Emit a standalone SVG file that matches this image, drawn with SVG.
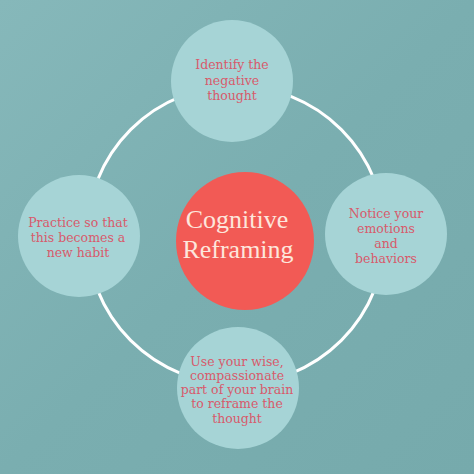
<svg xmlns="http://www.w3.org/2000/svg" width="474" height="474" viewBox="0 0 474 474">
<defs>
<linearGradient id="bg" x1="0" y1="0" x2="1" y2="1">
<stop offset="0" stop-color="#86b8ba"/>
<stop offset="0.5" stop-color="#7aaeb0"/>
<stop offset="1" stop-color="#76aaac"/>
</linearGradient>
<style>
.node{fill:#a6d4d6}
.lbl{font-family:"DejaVu Serif","Liberation Serif",serif;font-size:12.5px;fill:#d85a6b;text-anchor:middle}
.ctr{font-family:"Liberation Serif","DejaVu Serif",serif;font-size:26px;fill:#fde6dc;text-anchor:middle}
</style>
</defs>
<rect width="474" height="474" fill="url(#bg)"/>
<g id="connectors">
<circle cx="236" cy="235" r="149" fill="none" stroke="#ffffff" stroke-width="3"/>
</g>
<g id="center">
<circle cx="245" cy="241" r="69" fill="#f25a55"/>
<text class="ctr" x="237" y="228">Cognitive</text>
<text class="ctr" x="238" y="258">Reframing</text>
</g>
<g id="top">
<circle class="node" cx="232" cy="81" r="61"/>
<text class="lbl" x="232" y="69">Identify the</text>
<text class="lbl" x="232" y="85">negative</text>
<text class="lbl" x="232" y="100">thought</text>
</g>
<g id="right">
<circle class="node" cx="386" cy="234" r="61"/>
<text class="lbl" x="386" y="218">Notice your</text>
<text class="lbl" x="386" y="233">emotions</text>
<text class="lbl" x="386" y="248">and</text>
<text class="lbl" x="386" y="263">behaviors</text>
</g>
<g id="bottom">
<circle class="node" cx="238" cy="388" r="61"/>
<text class="lbl" x="237" y="366">Use your wise,</text>
<text class="lbl" x="237" y="380">compassionate</text>
<text class="lbl" x="237" y="394">part of your brain</text>
<text class="lbl" x="237" y="408">to reframe the</text>
<text class="lbl" x="237" y="423">thought</text>
</g>
<g id="left">
<circle class="node" cx="79" cy="236" r="61"/>
<text class="lbl" x="78" y="227">Practice so that</text>
<text class="lbl" x="78" y="242">this becomes a</text>
<text class="lbl" x="78" y="257">new habit</text>
</g>
</svg>
